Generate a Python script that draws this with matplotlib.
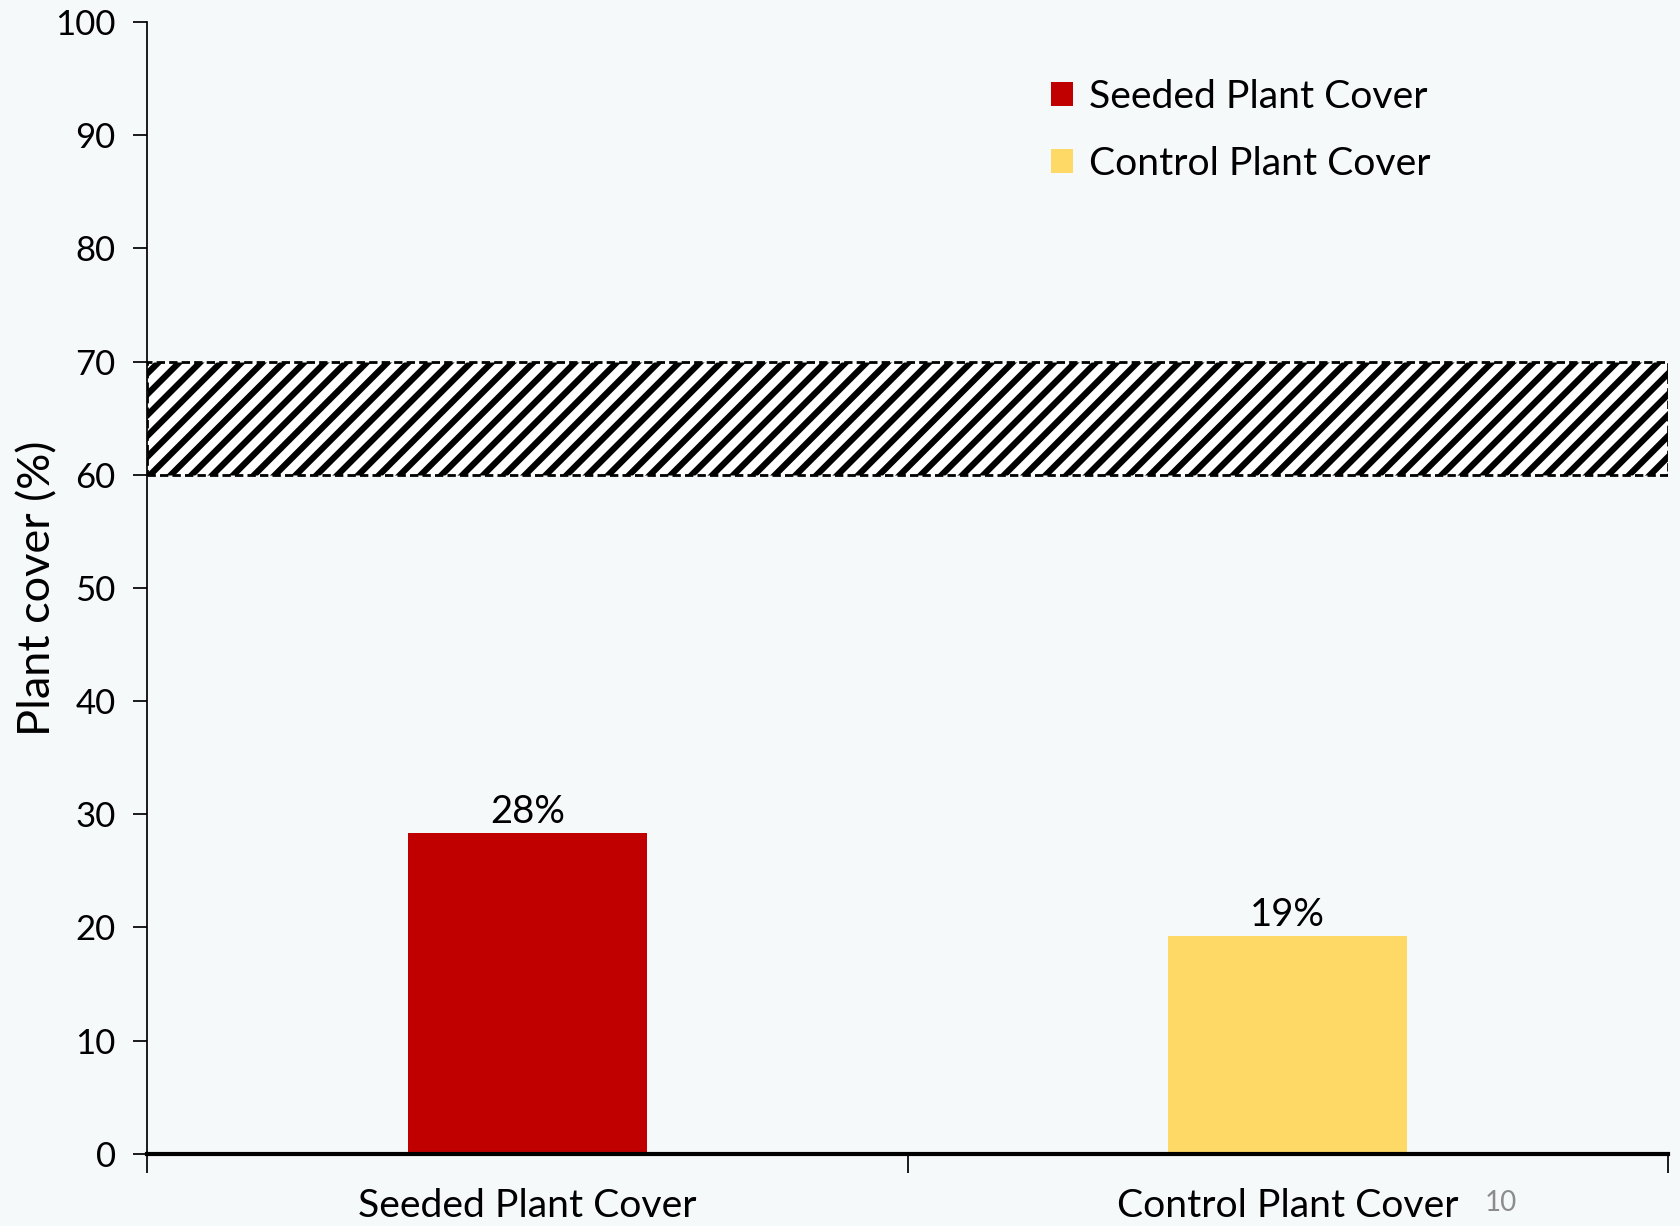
import matplotlib
matplotlib.use("Agg")
import matplotlib.pyplot as plt

# data
categories = ["Seeded Plant Cover", "Control Plant Cover"]
cover = [28.3, 19.2]
cover_labels = ["28%", "19%"]
colors = ["#C00000", "#FFD966"]
target_low, target_high = 60, 70
y_ticks = list(range(0, 101, 10))

plt.rcParams["font.family"] = ["Lato", "DejaVu Sans"]
plt.rcParams["hatch.linewidth"] = 3.6
bg = "#F6F9FA"

fig = plt.figure(figsize=(13.44, 9.808), dpi=125, facecolor=bg)
ax = fig.add_axes([0.0875, 0.059, 0.9054, 0.923])
ax.set_facecolor(bg)

# target band (hatched)
ax.axhspan(target_low, target_high, facecolor="white", edgecolor="black",
           hatch="//", linestyle=(0, (3, 1.5)), linewidth=1.6, zorder=1)

x = range(len(categories))
for i in x:
    b = ax.bar(i, cover[i], width=0.314, color=colors[i], label=categories[i], zorder=2)
    ax.bar_label(b, labels=[cover_labels[i]], padding=2, fontsize=22)

ax.set_xlim(-0.5, len(categories) - 0.5)
ax.set_ylim(0, 100)
ax.set_yticks(y_ticks)
ax.tick_params(axis="y", labelsize=20, length=8, width=1, pad=10)
ax.set_ylabel("Plant cover (%)", fontsize=26, labelpad=-2)

ax.set_xticks([-0.5, 0.5, 1.5])
ax.set_xticklabels([])
ax.tick_params(axis="x", which="major", length=11, width=1)
ax.set_xticks(list(x), minor=True)
ax.set_xticklabels(categories, minor=True)
ax.tick_params(axis="x", which="minor", length=0, labelsize=22.5, pad=20)

ax.spines["top"].set_visible(False)
ax.spines["right"].set_visible(False)
ax.spines["bottom"].set_linewidth(2.4)
ax.spines["left"].set_linewidth(1)

ax.legend(loc="upper left", bbox_to_anchor=(0.571, 0.981), frameon=False,
          fontsize=22.5, handlelength=0.58, handleheight=0.58, handletextpad=0.4,
          labelspacing=0.8)

fig.text(0.884, 0.012, "10", fontsize=16, color="#8C8C8C")

fig.savefig("out.png", dpi=125, facecolor=bg)
